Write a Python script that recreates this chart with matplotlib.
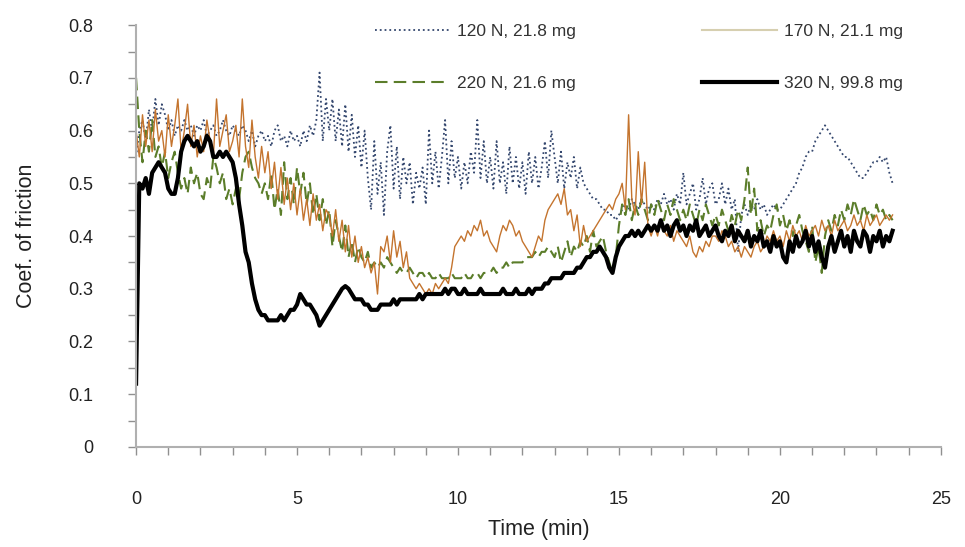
import numpy as np
import matplotlib
matplotlib.use("Agg")
import matplotlib.pyplot as plt
from matplotlib.lines import Line2D
from matplotlib.ticker import MultipleLocator

plt.rcParams['font.family'] = ['Liberation Sans', 'DejaVu Sans']

# sampling step of the recorded traces (min)
dt = 0.1

labels = ['120 N, 21.8 mg', '170 N, 21.1 mg', '220 N, 21.6 mg', '320 N, 99.8 mg']

# coefficient of friction, one value every 0.1 min from t = 0 to 23.5 min
cof_120 = [
    0.55, 0.60, 0.62, 0.58, 0.64, 0.60, 0.66, 0.61, 0.65, 0.63,
    0.60, 0.62, 0.59, 0.61, 0.60, 0.62, 0.60, 0.61, 0.59, 0.61,
    0.60, 0.62, 0.59, 0.60, 0.61, 0.59, 0.60, 0.62, 0.60, 0.59,
    0.61, 0.60, 0.59, 0.61, 0.60, 0.58, 0.60, 0.57, 0.59, 0.60,
    0.58, 0.59, 0.57, 0.60, 0.61, 0.58, 0.59, 0.57, 0.60, 0.58,
    0.59, 0.57, 0.60, 0.58, 0.61, 0.59, 0.62, 0.71, 0.58, 0.66,
    0.60, 0.66, 0.58, 0.64, 0.57, 0.65, 0.56, 0.63, 0.55, 0.61,
    0.53, 0.60, 0.51, 0.45, 0.58, 0.48, 0.54, 0.44, 0.56, 0.61,
    0.49, 0.57, 0.47, 0.55, 0.50, 0.54, 0.46, 0.52, 0.49, 0.53,
    0.46, 0.60, 0.50, 0.56, 0.49, 0.55, 0.62, 0.50, 0.58, 0.51,
    0.55, 0.49, 0.54, 0.50, 0.56, 0.52, 0.62, 0.51, 0.58, 0.50,
    0.55, 0.49, 0.58, 0.50, 0.54, 0.48, 0.57, 0.50, 0.55, 0.49,
    0.54, 0.48, 0.56, 0.50, 0.55, 0.49, 0.53, 0.58, 0.51, 0.60,
    0.55, 0.50, 0.56, 0.49, 0.54, 0.51, 0.55, 0.49, 0.53, 0.50,
    0.49, 0.48, 0.47, 0.47, 0.46, 0.45, 0.45, 0.44, 0.44, 0.43,
    0.44, 0.45, 0.46, 0.45, 0.47, 0.46, 0.45, 0.47, 0.46, 0.45,
    0.46, 0.45, 0.47, 0.46, 0.48, 0.46, 0.47, 0.45, 0.48, 0.46,
    0.52, 0.46, 0.48, 0.50, 0.45, 0.47, 0.51, 0.46, 0.49, 0.50,
    0.46, 0.47, 0.50, 0.46, 0.49, 0.45, 0.47, 0.37, 0.44, 0.46,
    0.44, 0.46, 0.45, 0.47, 0.45, 0.46, 0.44, 0.45, 0.46, 0.45,
    0.45, 0.46, 0.47, 0.48, 0.49, 0.50, 0.52, 0.53, 0.55, 0.56,
    0.56, 0.58, 0.59, 0.60, 0.61, 0.60, 0.59, 0.58, 0.57, 0.56,
    0.55, 0.55, 0.54, 0.53, 0.52, 0.51, 0.51, 0.52, 0.53, 0.54,
    0.54, 0.55, 0.54, 0.55, 0.52, 0.50,
]

cof_170 = [
    0.60, 0.55, 0.63, 0.57, 0.62, 0.56, 0.64, 0.58, 0.60, 0.55,
    0.63, 0.57, 0.61, 0.66, 0.56, 0.60, 0.65, 0.57, 0.61, 0.55,
    0.59, 0.56, 0.62, 0.58, 0.55, 0.66, 0.57, 0.60, 0.63, 0.56,
    0.58, 0.61, 0.55, 0.66, 0.57, 0.53, 0.62, 0.55, 0.51, 0.57,
    0.52, 0.56, 0.49, 0.54, 0.47, 0.53, 0.46, 0.51, 0.45, 0.50,
    0.44, 0.49, 0.43, 0.47, 0.42, 0.48, 0.43, 0.46, 0.41, 0.45,
    0.44, 0.40, 0.45, 0.39, 0.43, 0.37, 0.42, 0.36, 0.40, 0.35,
    0.38, 0.34, 0.36, 0.33, 0.35, 0.29, 0.38, 0.37, 0.40, 0.35,
    0.41, 0.36, 0.39, 0.34, 0.37, 0.32, 0.31, 0.30, 0.31, 0.30,
    0.29, 0.30, 0.29, 0.31, 0.30, 0.31, 0.32, 0.31, 0.34, 0.38,
    0.39, 0.40, 0.39, 0.41, 0.40, 0.42, 0.41, 0.43, 0.40, 0.41,
    0.39, 0.38, 0.37, 0.40, 0.42, 0.41, 0.43, 0.42, 0.40, 0.41,
    0.39, 0.38, 0.37, 0.36, 0.38, 0.40, 0.39, 0.43, 0.45, 0.46,
    0.47, 0.48, 0.46, 0.49, 0.44, 0.45, 0.41, 0.44, 0.38, 0.42,
    0.39, 0.40, 0.41, 0.42, 0.43, 0.44, 0.45, 0.46, 0.45, 0.47,
    0.48, 0.50, 0.45, 0.63, 0.47, 0.44, 0.56, 0.46, 0.54, 0.42,
    0.40, 0.42, 0.40, 0.43, 0.41, 0.40, 0.42, 0.39, 0.41, 0.40,
    0.39, 0.38, 0.40, 0.37, 0.36, 0.38, 0.37, 0.39, 0.38, 0.40,
    0.40, 0.39, 0.41, 0.40, 0.38, 0.39, 0.37, 0.38, 0.36, 0.38,
    0.37, 0.36, 0.38, 0.39, 0.37, 0.38, 0.40, 0.39, 0.41, 0.39,
    0.40, 0.38, 0.41, 0.39, 0.42, 0.40, 0.41, 0.39, 0.42, 0.40,
    0.41, 0.42, 0.40, 0.43, 0.41, 0.42, 0.40, 0.43, 0.41, 0.42,
    0.43, 0.41, 0.42, 0.44, 0.42, 0.43, 0.41, 0.44, 0.42, 0.43,
    0.44, 0.42, 0.43, 0.44, 0.43, 0.44,
]

cof_220 = [
    0.70, 0.60, 0.54, 0.60, 0.56, 0.62, 0.55, 0.57, 0.53, 0.56,
    0.51, 0.54, 0.56, 0.52, 0.49, 0.51, 0.48, 0.53, 0.50, 0.52,
    0.48, 0.47, 0.51, 0.49, 0.55, 0.53, 0.50, 0.52, 0.47, 0.49,
    0.46, 0.49, 0.47, 0.52, 0.55, 0.56, 0.53, 0.51, 0.50, 0.48,
    0.50, 0.47, 0.52, 0.45, 0.49, 0.44, 0.54, 0.47, 0.51, 0.46,
    0.53, 0.48, 0.52, 0.46, 0.50, 0.44, 0.48, 0.43, 0.47, 0.42,
    0.45, 0.38, 0.43, 0.40, 0.37, 0.42, 0.36, 0.39, 0.35, 0.38,
    0.36, 0.35, 0.37, 0.34, 0.35, 0.34, 0.35, 0.34, 0.36, 0.35,
    0.34, 0.33, 0.34, 0.33, 0.33, 0.34, 0.33, 0.32, 0.33, 0.33,
    0.32, 0.33, 0.32, 0.32, 0.33, 0.32, 0.32, 0.32, 0.33, 0.32,
    0.32, 0.32, 0.33, 0.32, 0.32, 0.33, 0.33, 0.32, 0.33, 0.33,
    0.33, 0.34, 0.33, 0.34, 0.34, 0.35, 0.34, 0.35, 0.35, 0.35,
    0.35, 0.36, 0.36, 0.36, 0.37, 0.36, 0.37, 0.37, 0.38, 0.37,
    0.36, 0.38, 0.35, 0.37, 0.39, 0.36, 0.38, 0.37, 0.39, 0.38,
    0.40, 0.37, 0.41, 0.38, 0.39, 0.40, 0.37, 0.35, 0.33, 0.36,
    0.42, 0.46, 0.44, 0.47, 0.43, 0.46, 0.44, 0.47, 0.45, 0.43,
    0.46, 0.44, 0.47, 0.45, 0.43, 0.46, 0.44, 0.47, 0.45, 0.43,
    0.45, 0.43, 0.46, 0.44, 0.42, 0.45, 0.43, 0.46, 0.44, 0.42,
    0.44, 0.42, 0.45, 0.43, 0.41, 0.44, 0.42, 0.45, 0.43, 0.47,
    0.53, 0.44, 0.49, 0.41, 0.43, 0.40, 0.42, 0.41, 0.44, 0.46,
    0.42, 0.44, 0.41, 0.43, 0.40, 0.42, 0.44, 0.41, 0.39, 0.37,
    0.42, 0.35, 0.38, 0.33, 0.40, 0.43, 0.41, 0.44, 0.42, 0.45,
    0.43, 0.46, 0.44, 0.47, 0.45, 0.43, 0.46, 0.44, 0.45, 0.43,
    0.46, 0.44, 0.45, 0.43, 0.44, 0.43,
]

cof_320 = [
    0.12, 0.50, 0.49, 0.51, 0.48, 0.52, 0.53, 0.54, 0.53, 0.52,
    0.49, 0.48, 0.48, 0.51, 0.56, 0.58, 0.59, 0.58, 0.57, 0.58,
    0.56, 0.57, 0.59, 0.58, 0.55, 0.55, 0.56, 0.55, 0.56, 0.55,
    0.54, 0.51, 0.46, 0.42, 0.37, 0.35, 0.31, 0.28, 0.26, 0.25,
    0.25, 0.24, 0.24, 0.24, 0.24, 0.25, 0.24, 0.25, 0.26, 0.26,
    0.27, 0.29, 0.28, 0.27, 0.27, 0.26, 0.25, 0.23, 0.24, 0.25,
    0.26, 0.27, 0.28, 0.29, 0.30, 0.305, 0.30, 0.29, 0.28, 0.28,
    0.28, 0.27, 0.27, 0.26, 0.26, 0.26, 0.27, 0.27, 0.27, 0.27,
    0.28, 0.27, 0.28, 0.28, 0.28, 0.28, 0.28, 0.28, 0.29, 0.28,
    0.29, 0.29, 0.29, 0.29, 0.29, 0.29, 0.30, 0.29, 0.30, 0.30,
    0.29, 0.29, 0.30, 0.29, 0.29, 0.29, 0.29, 0.30, 0.29, 0.29,
    0.29, 0.29, 0.29, 0.29, 0.30, 0.29, 0.29, 0.29, 0.30, 0.29,
    0.29, 0.29, 0.30, 0.29, 0.30, 0.30, 0.30, 0.31, 0.31, 0.32,
    0.32, 0.32, 0.32, 0.33, 0.33, 0.33, 0.33, 0.34, 0.34, 0.35,
    0.36, 0.36, 0.37, 0.37, 0.38, 0.37, 0.36, 0.34, 0.33, 0.36,
    0.38, 0.39, 0.40, 0.40, 0.41, 0.40, 0.41, 0.40, 0.41, 0.42,
    0.41, 0.42, 0.41, 0.43, 0.41, 0.42, 0.40, 0.42, 0.43, 0.41,
    0.42, 0.40, 0.42, 0.41, 0.43, 0.40, 0.41, 0.42, 0.40, 0.41,
    0.42, 0.40, 0.39, 0.41, 0.40, 0.42, 0.39, 0.41, 0.40, 0.39,
    0.41, 0.38, 0.40, 0.39, 0.41, 0.38, 0.39, 0.37, 0.40, 0.38,
    0.39, 0.36, 0.35, 0.39, 0.37, 0.40, 0.38, 0.39, 0.41, 0.38,
    0.40, 0.37, 0.39, 0.36, 0.34, 0.38, 0.40, 0.37, 0.39, 0.41,
    0.38, 0.40, 0.37, 0.41, 0.39, 0.38, 0.41, 0.40, 0.37, 0.40,
    0.39, 0.41, 0.38, 0.40, 0.39, 0.41,
]

c120 = '#34476e'
c170 = '#c4742e'
c220 = '#5b7d2a'
c320 = '#000000'

fig = plt.figure(figsize=(9.65, 5.47), dpi=100)
ax = fig.add_axes([0.141, 0.183, 0.834, 0.771])

t120 = np.arange(len(cof_120)) * dt
t170 = np.arange(len(cof_170)) * dt
t220 = np.arange(len(cof_220)) * dt
t320 = np.arange(len(cof_320)) * dt

ax.plot(t120, cof_120, color=c120, linestyle=':', linewidth=1.3)
ax.plot(t220, cof_220, color=c220, linestyle=(0, (6, 3)), linewidth=1.5)
ax.plot(t170, cof_170, color=c170, linewidth=1.0)
ax.plot(t320, cof_320, color=c320, linewidth=3.0)

ax.set_xlim(0, 25)
ax.set_ylim(0, 0.8)
ax.xaxis.set_major_locator(MultipleLocator(5))
ax.xaxis.set_minor_locator(MultipleLocator(1))
ax.yaxis.set_major_locator(MultipleLocator(0.1))
ax.yaxis.set_minor_locator(MultipleLocator(0.05))
ax.set_yticks(np.arange(0, 0.81, 0.1))
ax.set_yticklabels(['0', '0.1', '0.2', '0.3', '0.4', '0.5', '0.6', '0.7', '0.8'])

for s in ['top', 'right']:
    ax.spines[s].set_visible(False)
for s in ['left', 'bottom']:
    ax.spines[s].set_color('#b0b0b0')
    ax.spines[s].set_linewidth(1.5)

ax.tick_params(axis='both', which='both', direction='out', length=6,
               color='#909090', width=1, labelcolor='#222222', labelsize=13)
ax.tick_params(axis='y', which='major', pad=25)
ax.tick_params(axis='x', which='major', pad=26)

ax.set_xlabel('Time (min)', fontsize=15.5, color='#222222', labelpad=8)
ax.set_ylabel('Coef. of friction', fontsize=15.5, color='#222222', labelpad=22)

handles = [
    Line2D([], [], color=c120, linestyle=':', linewidth=1.3),
    Line2D([], [], color=c220, linestyle=(0, (6, 3)), linewidth=1.5),
    Line2D([], [], color='#d6cfb0', linewidth=1.5),
    Line2D([], [], color=c320, linewidth=3.0),
]
leg_labels = [labels[0], labels[2], labels[1], labels[3]]
fig.legend(handles, leg_labels, loc='upper left', bbox_to_anchor=(375 / 965, 1 - 24 / 547),
           ncol=2, frameon=False, fontsize=12.5, handlelength=4.3, handletextpad=0.4,
           columnspacing=7.3, labelspacing=2.1, borderpad=0, borderaxespad=0,
           labelcolor='#333333')

fig.savefig('out.png', dpi=100)
